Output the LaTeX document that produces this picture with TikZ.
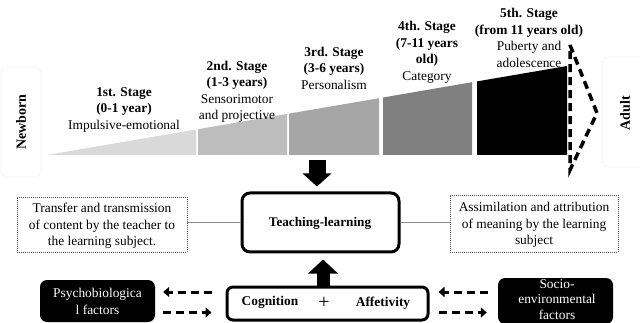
\documentclass[tikz,border=0pt]{standalone}
\usepackage{fontspec}
\setmainfont{Liberation Serif}
\usetikzlibrary{arrows.meta}
\begin{document}
\begin{tikzpicture}[x=1pt,y=-1pt,
  lbl/.style={font=\fontsize{13.4}{16.5}\selectfont, align=center, inner sep=0pt},
  sidebox/.style={draw=black!5, rounded corners=7pt, line width=0.6pt},
  side/.style={font=\fontsize{14}{16}\selectfont\bfseries, inner sep=0pt, rotate=90},
  dotbox/.style={draw=black!70, dash pattern=on 1pt off 1pt, line width=0.8pt, inner sep=0pt},
  mainbox/.style={draw=black, line width=3pt, rounded corners=8pt, inner sep=0pt},
  blackbox/.style={fill=black, rounded corners=7pt, inner sep=0pt},
  dasharrow/.style={line width=3pt, dash pattern=on 8pt off 5pt, -{Triangle[length=6pt,width=10pt]}},
  bigdash/.style={line width=3.5pt, dash pattern=on 8pt off 5pt, line join=miter},
  link/.style={draw=black!45, line width=0.8pt}
]
\useasboundingbox (0,0) rectangle (640,323);

% side boxes
\node[sidebox, minimum width=40pt, minimum height=110pt] (nbbox) at (21,122) {};
\node[side] (newborn) at (nbbox.center) {Newborn};
\node[sidebox, minimum width=44pt, minimum height=110pt] (adbox) at (624,112) {};
\node[side] (adult) at (625,113) {Adult};

% stages
\fill[black!15] (47,155) -- (196,155) -- (196,129.5) -- cycle;
\fill[black!26] (198,155) -- (287,155) -- (287,113.9) -- (198,129.2) -- cycle;
\fill[black!35] (289,155) -- (379,155) -- (379,98.2) -- (289,113.6) -- cycle;
\fill[black!50] (383,155) -- (472,155) -- (472,82.2) -- (383,97.5) -- cycle;
\fill[black] (477,155) -- (567,155) -- (567,66) -- (477,81.4) -- cycle;

\draw[bigdash] (570,45) -- (597,113) -- (570,170) -- cycle;

\node[lbl] (s1) at (124,109.5) {\textbf{1st. Stage}\\\textbf{(0-1 year)}\\Impulsive-emotional};
\node[lbl] (s2) at (237,92) {\textbf{2nd. Stage}\\\textbf{(1-3 years)}\\Sensorimotor\\and projective};
\node[lbl] (s3) at (334,68) {\textbf{3rd. Stage}\\\textbf{(3-6 years)}\\Personalism};
\node[lbl] (s4) at (427,52.5) {\textbf{4th. Stage}\\\textbf{(7-11 years}\\\textbf{old)}\\Category};
\node[lbl] (s5) at (529,38) {\textbf{5th. Stage}\\\textbf{(from 11 years old)}\\Puberty and\\adolescence};

% teaching-learning
\node[mainbox, minimum width=157pt, minimum height=59pt] (teach) at (320.5,222.5) {};
\node[lbl, font=\fontsize{13.2}{16}\selectfont\bfseries] (teachtxt) at (320,223) {Teaching-learning};

\node[dotbox, minimum width=170pt, minimum height=55pt] (left) at (102,224.5) {};
\node[lbl] (lefttxt) at (102,226) {Transfer and transmission\\of content by the teacher to\\the learning subject.};
\node[dotbox, minimum width=168pt, minimum height=57pt] (right) at (534,223.5) {};
\node[lbl] (righttxt) at (534,225) {Assimilation and attribution\\of meaning by the learning\\subject};

\draw[link] (teach.west) -- (teach.west -| left.east);
\draw[link] (teach.east) -- (teach.east -| right.west);

% cognition box
\node[mainbox, rounded corners=6pt, minimum width=201pt, minimum height=33pt] (cog) at (327.5,303.5) {};
\node[lbl, font=\fontsize{13.4}{16}\selectfont\bfseries] (cogtxt) at (270,302) {Cognition};
\node[lbl, font=\fontsize{20}{20}\selectfont] (plus) at (324,303) {+};
\node[lbl, font=\fontsize{13.4}{16}\selectfont\bfseries] (afftxt) at (383,303) {Affetivity};

% block arrows
\coordinate (dtop) at (317,160);
\draw[line width=17pt, -{Triangle[length=13pt,width=28pt]}, shorten >=5pt] (dtop) -- (dtop |- teach.north);
\coordinate (ubot) at (323,290);
\draw[line width=13pt, -{Triangle[length=14pt,width=29pt]}, shorten >=6pt] (ubot |- cog.north) -- (ubot |- teach.south);

% factor boxes
\node[blackbox, minimum width=115pt, minimum height=42pt] (psych) at (97.5,301) {};
\node[lbl, text=white] (psychtxt) at (97.5,301.5) {Psychobiologica\\l factors};
\node[blackbox, minimum width=115pt, minimum height=46pt] (socio) at (555.5,301) {};
\node[lbl, text=white, font=\fontsize{13.4}{15.5}\selectfont] (sociotxt) at (557,299.5) {Socio-\\environmental\\factors};

\coordinate (ya) at (0,292);
\coordinate (yb) at (0,312.5);
\draw[dasharrow, shorten <=14pt, shorten >=8pt] (cog.west |- ya) -- (psych.east |- ya);
\draw[dasharrow, shorten <=8pt, shorten >=14pt] (psych.east |- yb) -- (cog.west |- yb);
\draw[dasharrow, shorten <=10pt, shorten >=9pt] (socio.west |- ya) -- (cog.east |- ya);
\draw[dasharrow, shorten <=9pt, shorten >=11pt] (cog.east |- yb) -- (socio.west |- yb);
\end{tikzpicture}
\end{document}
